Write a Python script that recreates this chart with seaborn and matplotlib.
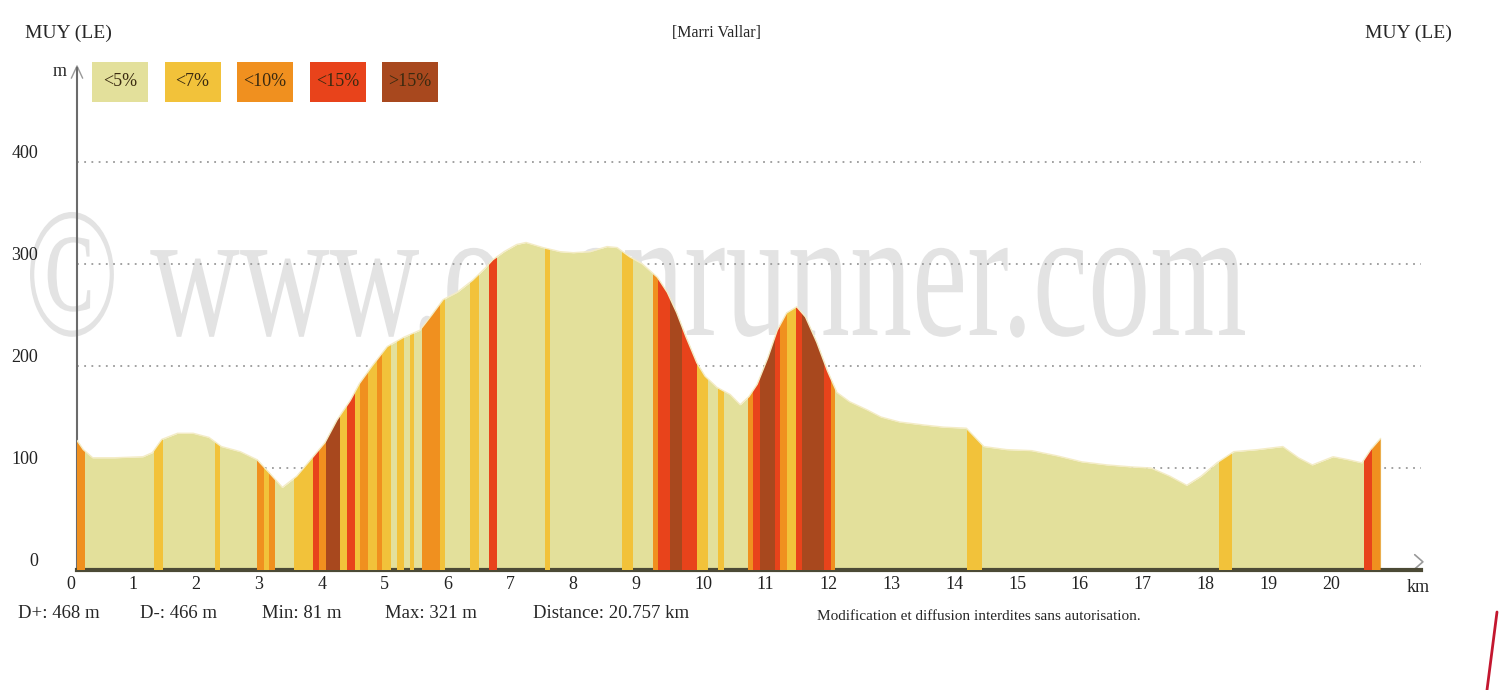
import matplotlib
matplotlib.use("Agg")
import matplotlib.pyplot as plt
import numpy as np
import seaborn as sns
from matplotlib.font_manager import FontProperties
from matplotlib.lines import Line2D
from matplotlib.patches import PathPatch, Rectangle
from matplotlib.textpath import TextPath
from matplotlib.transforms import Affine2D, ScaledTranslation

# elevation profile
distance_km = [0, 0.1, 0.25, 0.6, 1.05, 1.2, 1.35, 1.6, 1.85, 2.1, 2.3, 2.6, 2.87,
               3.05, 3.27, 3.5, 3.76, 3.95, 4.14, 4.35, 4.5, 4.7, 4.94, 5.2, 5.46,
               5.65, 5.83, 6.05, 6.3, 6.5, 6.62, 6.8, 7.0, 7.15, 7.42, 7.69, 7.9,
               8.17, 8.44, 8.6, 8.8, 9.0, 9.24, 9.4, 9.55, 9.7, 9.87, 10.0, 10.19,
               10.4, 10.56, 10.7, 10.83, 11.0, 11.15, 11.3, 11.46, 11.6, 11.78,
               11.95, 12.1, 12.3, 12.58, 12.8, 13.1, 13.5, 13.8, 14.16, 14.3,
               14.44, 14.8, 15.2, 15.6, 16.0, 16.4, 16.8, 17.1, 17.4, 17.67, 17.9,
               18.15, 18.42, 18.8, 19.2, 19.45, 19.67, 20.0, 20.25, 20.46, 20.6,
               20.757]
elevation_m = [127, 118, 110, 110, 111, 115, 128, 134, 134, 130, 121, 116, 108,
               96, 81, 92, 111, 125, 147, 166, 183, 200, 219, 228, 235,
               250, 265, 272, 284, 296, 304, 312, 319, 321, 316, 312, 311,
               312, 317, 316, 307, 300, 287, 272, 252, 228, 203, 190, 179,
               172, 162, 170, 182, 208, 235, 252, 258, 248, 223,
               195, 174, 165, 157, 150, 145, 142, 140, 139, 130,
               121, 118, 117, 112, 106, 103, 101, 100, 92, 83, 92,
               105, 116, 118, 121, 110, 103, 111, 108, 105, 118,
               129]

# gradient bands over the base colour (grade index into grade_labels)
band_start = [0.0, 1.22, 2.20, 2.86, 2.98, 3.06, 3.45, 3.75, 3.86, 3.97, 4.18, 4.30,
              4.43, 4.50, 4.64, 4.78, 4.86, 5.10, 5.30, 5.50, 5.78, 6.26, 6.56,
              7.45, 8.68, 9.17, 9.25, 9.45, 9.63, 9.87, 10.20, 10.68, 10.76,
              10.88, 11.12, 11.20, 11.30, 11.45, 11.55, 11.90, 12.00, 14.17,
              18.18, 20.50, 20.62]
band_end = [0.12, 1.37, 2.27, 2.98, 3.06, 3.16, 3.75, 3.86, 3.97, 4.18, 4.30, 4.43,
            4.50, 4.64, 4.78, 4.86, 5.00, 5.20, 5.36, 5.78, 5.86, 6.40, 6.68,
            7.53, 8.85, 9.25, 9.45, 9.63, 9.87, 10.05, 10.30, 10.76, 10.88,
            11.12, 11.20, 11.30, 11.45, 11.55, 11.90, 12.00, 12.07, 14.41,
            18.39, 20.62, 20.757]
band_grade = [2, 1, 1, 2, 1, 2, 1, 3, 2, 4, 1, 3,
              1, 2, 1, 2, 1, 1, 1, 2, 1, 1, 3,
              1, 1, 2, 3, 4, 3, 1, 1, 2, 3,
              4, 3, 2, 1, 3, 4, 3, 2, 1,
              1, 3, 2]

grade_labels = ["<5%", "<7%", "<10%", "<15%", ">15%"]
grade_colors = ["#e3e09b", "#f2c23a", "#f0901f", "#e8431b", "#a8481e"]

x_ticks = list(range(0, 21))
y_ticks = [0, 100, 200, 300, 400]

stats = ["D+: 468 m", "D-: 466 m", "Min: 81 m", "Max: 321 m", "Distance: 20.757 km"]
stats_left_px = [18, 140, 262, 385, 533]

W, H = 1500, 690


def fx(px):
    return px / W


def fy(py):
    return 1 - py / H


sns.set_style("white")
plt.rcParams["font.family"] = ["Liberation Serif", "DejaVu Serif"]

fig = plt.figure(figsize=(15, 6.9), dpi=100)
ax = fig.add_axes([fx(77), 120 / H, 1344 / W, 502 / H])
ax.set_xlim(0, 21.4)
ax.set_ylim(0, 492)

# watermark, squeezed horizontally like the source image
wm = TextPath((0, 0), "\u00a9 www.openrunner.com", size=1,
              prop=FontProperties(family="Liberation Serif"))
ext = wm.get_extents()
sx = 12.15 / ext.width
sy = 1.85
wm_tr = Affine2D().scale(sx, sy).translate(0.30 - ext.x0 * sx, 3.55) + fig.dpi_scale_trans
ax.add_artist(PathPatch(wm, transform=wm_tr, facecolor="#e3e3e3", edgecolor="none",
                        zorder=0.3, clip_on=False))

profile = ax.fill_between(distance_km, elevation_m, 0, color=grade_colors[0],
                          linewidth=0, zorder=2)
clip_path = profile.get_paths()[0]

widths = np.array(band_end) - np.array(band_start)
bars = ax.bar(x=band_start, height=492, width=widths, bottom=0, align="edge",
              color=[grade_colors[g] for g in band_grade], linewidth=0, zorder=3)
for b in bars:
    b.set_clip_path(clip_path, ax.transData)

sns.lineplot(x=distance_km, y=elevation_m, ax=ax, color="#f4ecc6", lw=1, zorder=4)

ax.set_yticks(y_ticks)
ax.set_xticks(x_ticks)
ax.set_xticklabels([str(t) for t in x_ticks])
ax.yaxis.grid(True, color="#9a9a9a", linestyle=(0, (1, 3)), lw=1.3)
ax.xaxis.grid(False)
ax.set_axisbelow(True)

for side in ["top", "right"]:
    ax.spines[side].set_visible(False)
ax.spines["left"].set_color("#6b6b6b")
ax.spines["left"].set_linewidth(1.5)
ax.spines["bottom"].set_color("#4c4a36")
ax.spines["bottom"].set_linewidth(3)

ax.tick_params(axis="both", length=0, labelsize=13, labelcolor="#222222")
ax.tick_params(axis="y", pad=28)
ax.tick_params(axis="x", pad=4)
shift = ScaledTranslation(-11 / 100, 0, fig.dpi_scale_trans)
for lbl in ax.get_xticklabels():
    lbl.set_horizontalalignment("left")
    lbl.set_transform(lbl.get_transform() + shift)
for lbl in ax.get_yticklabels():
    lbl.set_verticalalignment("bottom")

# axis arrow heads
ax.plot([-0.09, 0, 0.09], [482, 494, 482], color="#999999", lw=1, clip_on=False)
ax.plot([21.3, 21.43, 21.3], [15, 8, 1], color="#999999", lw=1.2, clip_on=False)

# header
fig.text(fx(25), fy(33), "MUY (LE)", ha="left", va="center", fontsize=14)
fig.text(fx(716), fy(33), "[Marri Vallar]", ha="center", va="center", fontsize=11.5)
fig.text(fx(1452), fy(33), "MUY (LE)", ha="right", va="center", fontsize=14)
fig.text(fx(60), fy(72), "m", ha="center", va="center", fontsize=13)
fig.text(fx(1418), fy(588), "km", ha="center", va="center", fontsize=13)

# grade legend
for i, (lab, col) in enumerate(zip(grade_labels, grade_colors)):
    left = 92 + i * 72.5
    fig.add_artist(Rectangle((fx(left), fy(102)), 56 / W, 40 / H,
                             transform=fig.transFigure, facecolor=col, edgecolor="none"))
    fig.text(fx(left + 28), fy(82), lab, ha="center", va="center", fontsize=13,
             color="#3a2a10")

# footer
for txt, left in zip(stats, stats_left_px):
    fig.text(fx(left), fy(614), txt, ha="left", va="center", fontsize=13.5)
fig.text(fx(817), fy(617), "Modification et diffusion interdites sans autorisation.",
         ha="left", va="center", fontsize=11)

fig.add_artist(Line2D([fx(1497), fx(1487)], [fy(612), fy(690)],
                      transform=fig.transFigure, color="#c3172f", lw=2))

fig.savefig("out.png", dpi=100)
